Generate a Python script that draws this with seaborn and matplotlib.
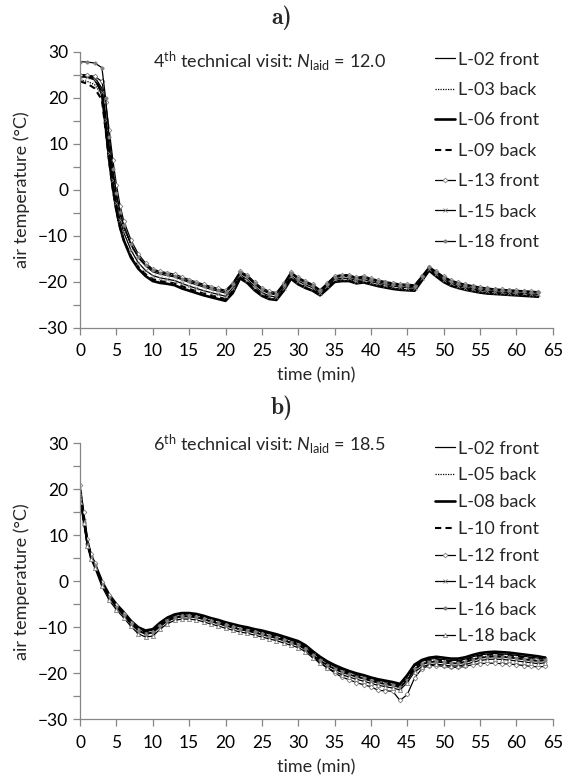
import matplotlib
matplotlib.use("Agg")
import matplotlib.pyplot as plt
from matplotlib.ticker import MultipleLocator
import seaborn as sns

# ---- panel a: 4th technical visit ----
time_a = [0, 1, 2, 3, 3.5, 4, 4.5, 5, 5.5, 6] + list(range(7, 64))

a_l02_front = [25.0, 24.9, 24.5, 22.0,
               16.5, 9.5, 3.5, -1.5, -5.3, -8.0,
               -12.0, -14.8, -16.6, -17.9, -18.4, -18.7, -19.0, -19.6, -20.2, -20.7, -21.2, -21.7, -22.1, -22.5,
               -20.8, -18.2, -19.1, -20.6, -21.9, -22.6, -22.9, -20.9, -18.3, -19.5, -20.3, -21.0, -22.2,
               -20.7, -19.2, -18.9, -18.9, -19.5, -19.2, -19.7, -20.1, -20.4, -20.7, -20.9, -21.0, -21.1,
               -19.2, -17.0, -18.2, -19.3, -20.1, -20.6, -21.0, -21.3, -21.6, -21.8, -21.9, -22.0, -22.1, -22.2, -22.3, -22.4, -22.5]
a_l03_back = [23.8, 23.5, 22.8, 20.5,
              15.0, 8.5, 2.8, -2.0, -5.6, -8.3,
              -12.2, -14.6, -16.3, -17.5, -18.0, -18.3, -18.6, -19.2, -19.8, -20.3, -20.8, -21.3, -21.7, -22.1,
              -20.5, -17.9, -18.8, -20.3, -21.6, -22.3, -22.6, -20.6, -18.1, -19.3, -20.1, -20.8, -22.0,
              -20.5, -19.0, -18.7, -18.7, -19.3, -19.0, -19.5, -19.9, -20.2, -20.5, -20.7, -20.8, -20.9,
              -19.0, -16.9, -18.0, -19.1, -19.9, -20.4, -20.8, -21.1, -21.4, -21.6, -21.8, -21.9, -22.0, -22.1, -22.2, -22.3, -22.4]
a_l06_front = [24.7, 24.6, 24.2, 21.0,
               14.0, 6.5, 0.5, -4.5, -8.2, -11.0,
               -14.8, -17.2, -18.8, -19.9, -20.3, -20.5, -20.8, -21.5, -22.0, -22.5, -23.0, -23.4, -23.8, -24.2,
               -22.5, -19.3, -20.3, -21.9, -23.1, -23.8, -24.0, -22.0, -19.4, -20.6, -21.4, -22.0, -23.0,
               -21.6, -20.1, -19.9, -19.9, -20.4, -20.2, -20.6, -21.0, -21.3, -21.6, -21.8, -21.9, -22.0,
               -19.8, -17.6, -18.9, -20.1, -20.9, -21.4, -21.8, -22.1, -22.4, -22.6, -22.7, -22.8, -22.9, -23.0, -23.1, -23.2, -23.3]
a_l09_back = [23.5, 23.0, 22.0, 19.5,
              13.0, 6.0, 0.0, -4.8, -8.3, -11.0,
              -14.5, -16.8, -18.4, -19.5, -19.9, -20.1, -20.4, -21.0, -21.6, -22.1, -22.6, -23.0, -23.4, -23.8,
              -22.0, -19.0, -20.0, -21.6, -22.8, -23.5, -23.7, -21.7, -19.2, -20.4, -21.2, -21.8, -22.8,
              -21.3, -19.9, -19.7, -19.7, -20.2, -20.0, -20.4, -20.8, -21.1, -21.4, -21.6, -21.7, -21.8,
              -19.6, -17.4, -18.7, -19.9, -20.7, -21.2, -21.6, -21.9, -22.2, -22.4, -22.5, -22.6, -22.7, -22.8, -22.9, -23.0, -23.1]
a_l13_front = [24.8, 24.8, 24.6, 23.5,
               19.0, 13.0, 6.5, 1.0, -3.5, -6.8,
               -11.0, -14.0, -16.0, -17.3, -17.8, -18.1, -18.4, -19.0, -19.6, -20.1, -20.6, -21.1, -21.5, -21.9,
               -20.3, -17.8, -18.6, -20.1, -21.4, -22.1, -22.4, -20.4, -17.9, -19.1, -19.9, -20.6, -21.8,
               -20.3, -18.8, -18.5, -18.5, -19.1, -18.8, -19.3, -19.7, -20.0, -20.3, -20.5, -20.6, -20.7,
               -18.8, -16.8, -17.8, -18.9, -19.7, -20.2, -20.6, -20.9, -21.2, -21.4, -21.6, -21.7, -21.8, -21.9, -22.0, -22.1, -22.2]
a_l15_back = [24.5, 24.4, 23.8, 21.2,
              15.2, 8.0, 2.0, -3.0, -6.6, -9.3,
              -13.2, -15.9, -17.6, -18.7, -19.2, -19.5, -19.8, -20.4, -21.0, -21.5, -22.0, -22.4, -22.8, -23.2,
              -21.4, -18.6, -19.6, -21.1, -22.4, -23.1, -23.4, -21.3, -18.8, -19.9, -20.7, -21.4, -22.5,
              -21.0, -19.5, -19.3, -19.3, -19.8, -19.6, -20.0, -20.4, -20.7, -21.0, -21.2, -21.3, -21.4,
              -19.3, -17.2, -18.4, -19.6, -20.4, -20.9, -21.3, -21.6, -21.9, -22.1, -22.2, -22.3, -22.4, -22.5, -22.6, -22.7, -22.8]
a_l18_front = [27.8, 27.7, 27.5, 26.5,
               20.0, 11.5, 4.5, -0.8, -4.8, -7.8,
               -11.8, -14.6, -16.4, -17.6, -18.1, -18.4, -18.8, -19.4, -19.9, -20.4, -20.9, -21.4, -21.8, -22.2,
               -20.6, -18.0, -18.9, -20.4, -21.7, -22.4, -22.7, -20.7, -18.1, -19.3, -20.1, -20.8, -21.9,
               -20.5, -19.0, -18.7, -18.7, -19.3, -19.0, -19.5, -19.9, -20.2, -20.5, -20.7, -20.8, -20.9,
               -18.9, -16.9, -17.9, -19.0, -19.8, -20.3, -20.7, -21.0, -21.3, -21.5, -21.7, -21.8, -21.9, -22.0, -22.1, -22.2, -22.3]

# ---- panel b: 6th technical visit ----
time_b = [0, 0.5, 1, 1.5, 2] + list(range(3, 65))

b_l02_front = [19.5, 13.8, 8.6, 5.7, 4.0,
               -0.1, -3.0, -5.1, -6.8, -8.7, -10.2, -10.9, -10.6, -9.2, -8.1,
               -7.4, -7.1, -7.1, -7.3, -7.7, -8.2, -8.6, -9.1, -9.5, -9.9, -10.2, -10.6,
               -11.0, -11.4, -11.8, -12.3, -12.8, -13.3, -14.2, -15.5, -16.7, -17.7, -18.5, -19.2,
               -19.7, -20.2, -20.6, -21.1, -21.5, -21.8, -22.1, -22.5, -20.6, -18.4, -17.4, -16.9,
               -16.8, -17.0, -17.2, -17.2, -16.9, -16.4, -16.0, -15.8, -15.7, -15.8, -15.9, -16.1, -16.3, -16.5, -16.7, -16.5]
b_l05_back = [18.5, 13.2, 8.2, 5.3, 3.6,
              -0.5, -3.4, -5.5, -7.2, -9.1, -10.6, -11.3, -11.0, -9.6, -8.5,
              -7.8, -7.5, -7.5, -7.7, -8.1, -8.6, -9.0, -9.5, -9.9, -10.3, -10.6, -11.0,
              -11.4, -11.8, -12.2, -12.7, -13.2, -13.7, -14.6, -15.9, -17.1, -18.1, -18.9, -19.6,
              -20.1, -20.6, -21.0, -21.5, -21.9, -22.2, -22.5, -22.9, -21.3, -19.0, -17.9, -17.4,
              -17.3, -17.5, -17.7, -17.7, -17.4, -16.9, -16.5, -16.3, -16.2, -16.3, -16.4, -16.6, -16.8, -17.0, -17.2, -17.0]
b_l08_back = [19.8, 14.0, 8.6, 5.6, 3.9,
              0.0, -2.9, -5.0, -6.7, -8.6, -10.0, -10.7, -10.4, -9.0, -7.9,
              -7.2, -6.9, -6.9, -7.1, -7.5, -8.0, -8.4, -8.9, -9.3, -9.7, -10.0, -10.4,
              -10.7, -11.1, -11.5, -12.0, -12.5, -13.0, -13.9, -15.2, -16.4, -17.4, -18.2, -18.9,
              -19.5, -20.0, -20.4, -20.9, -21.3, -21.6, -21.9, -22.3, -20.4, -18.1, -17.1, -16.6,
              -16.4, -16.6, -16.8, -16.8, -16.5, -16.0, -15.6, -15.4, -15.3, -15.4, -15.5, -15.7, -15.9, -16.1, -16.3, -16.6]
b_l10_front = [19.0, 13.6, 8.4, 5.5, 3.8,
               -0.3, -3.2, -5.3, -7.0, -8.9, -10.4, -11.1, -10.8, -9.4, -8.3,
               -7.6, -7.3, -7.3, -7.5, -7.9, -8.4, -8.8, -9.3, -9.7, -10.1, -10.4, -10.8,
               -11.2, -11.6, -12.0, -12.5, -13.0, -13.5, -14.4, -15.7, -16.9, -17.9, -18.7, -19.4,
               -19.9, -20.4, -20.8, -21.3, -21.7, -22.0, -22.3, -22.7, -21.0, -18.7, -17.6, -17.1,
               -17.0, -17.2, -17.4, -17.4, -17.1, -16.6, -16.2, -16.0, -15.9, -16.0, -16.1, -16.3, -16.5, -16.7, -16.9, -16.7]
b_l12_front = [20.9, 15.0, 9.3, 6.0, 3.9,
               -0.2, -3.0, -5.2, -7.0, -9.0, -10.6, -11.4, -11.1, -9.7, -8.6,
               -7.9, -7.6, -7.6, -7.8, -8.2, -8.7, -9.1, -9.6, -10.0, -10.4, -10.7, -11.1,
               -11.5, -11.9, -12.3, -12.8, -13.3, -13.8, -14.8, -16.3, -17.6, -18.8, -19.9, -20.8,
               -21.4, -22.0, -22.5, -22.9, -23.7, -23.8, -23.9, -25.9, -24.6, -21.0, -19.0, -18.3,
               -18.3, -18.5, -18.7, -18.7, -18.5, -18.1, -17.9, -17.8, -17.8, -17.9, -18.0, -18.1, -18.3, -18.5, -18.6, -18.5]
b_l14_back = [18.8, 13.2, 8.0, 5.1, 3.4,
              -0.7, -3.6, -5.7, -7.4, -9.3, -10.8, -11.5, -11.2, -9.8, -8.7,
              -8.0, -7.7, -7.7, -7.9, -8.3, -8.8, -9.2, -9.7, -10.1, -10.5, -10.8, -11.2,
              -11.6, -12.0, -12.4, -12.9, -13.4, -13.9, -14.8, -16.1, -17.3, -18.3, -19.1, -19.8,
              -20.3, -20.8, -21.2, -21.7, -22.1, -22.4, -22.7, -23.1, -21.5, -19.2, -18.1, -17.6,
              -17.5, -17.7, -17.9, -17.9, -17.6, -17.1, -16.7, -16.5, -16.4, -16.5, -16.6, -16.8, -17.0, -17.2, -17.4, -17.2]
b_l16_back = [17.8, 12.9, 8.1, 5.2, 3.5,
              -0.6, -3.5, -5.6, -7.3, -9.2, -10.7, -11.4, -11.1, -9.7, -8.6,
              -7.9, -7.6, -7.6, -7.8, -8.2, -8.7, -9.1, -9.6, -10.0, -10.4, -10.7, -11.1,
              -11.5, -11.9, -12.3, -12.8, -13.3, -13.8, -14.7, -16.0, -17.2, -18.2, -19.0, -19.7,
              -20.2, -20.7, -21.1, -21.6, -22.0, -22.3, -22.6, -23.0, -21.4, -19.1, -18.0, -17.5,
              -17.4, -17.6, -17.8, -17.8, -17.5, -17.0, -16.6, -16.4, -16.3, -16.4, -16.5, -16.7, -16.9, -17.1, -17.3, -17.1]
b_l18_back = [17.3, 12.6, 7.6, 4.8, 3.0,
              -1.1, -4.1, -6.2, -7.9, -9.8, -11.4, -12.1, -11.9, -10.4, -9.2,
              -8.5, -8.2, -8.2, -8.4, -8.8, -9.3, -9.7, -10.2, -10.6, -11.0, -11.3, -11.7,
              -12.1, -12.5, -12.9, -13.4, -13.9, -14.4, -15.3, -16.6, -17.8, -18.8, -19.6, -20.3,
              -20.8, -21.3, -21.7, -22.2, -22.6, -22.9, -23.2, -23.6, -22.0, -19.7, -18.6, -18.1,
              -18.0, -18.2, -18.4, -18.4, -18.1, -17.6, -17.2, -17.0, -16.9, -17.0, -17.1, -17.3, -17.5, -17.7, -17.9, -17.7]

# line looks, Excel-like
GRAY = "#7f7f7f"
thin = dict(lw=0.9, ls="-")
dotted = dict(lw=0.9, ls=(0, (1, 1)))
thick = dict(lw=1.9, ls="-")
dashed = dict(lw=1.5, ls=(0, (3, 2)))
diamond = dict(lw=0.9, ls="-", marker="D", ms=2.4, mfc="white", mec=GRAY, mew=0.6)
cross = dict(lw=0.9, ls="-", marker="x", ms=3.0, mec=GRAY, mew=0.6)
circle = dict(lw=0.9, ls="-", marker="o", ms=2.4, mfc=GRAY, mec=GRAY, mew=0.4)
triangle = dict(lw=0.9, ls="-", marker="^", ms=3.0, mfc="white", mec=GRAY, mew=0.6)

panel_a = [("L-02 front", a_l02_front, thin),
           ("L-03 back", a_l03_back, dotted),
           ("L-06 front", a_l06_front, thick),
           ("L-09 back", a_l09_back, dashed),
           ("L-13 front", a_l13_front, diamond),
           ("L-15 back", a_l15_back, cross),
           ("L-18 front", a_l18_front, circle)]
panel_b = [("L-02 front", b_l02_front, thin),
           ("L-05 back", b_l05_back, dotted),
           ("L-08 back", b_l08_back, thick),
           ("L-10 front", b_l10_front, dashed),
           ("L-12 front", b_l12_front, diamond),
           ("L-14 back", b_l14_back, cross),
           ("L-16 back", b_l16_back, circle),
           ("L-18 back", b_l18_back, triangle)]

sns.set_style("ticks")
plt.rcParams["font.family"] = ["Lato", "DejaVu Sans"]
plt.rcParams["mathtext.fontset"] = "custom"
plt.rcParams["mathtext.rm"] = "Lato"
plt.rcParams["mathtext.it"] = "Lato:italic"

fig = plt.figure(figsize=(5.64, 7.78), dpi=100)
ax_a = fig.add_axes([0.142, 0.579, 0.838, 0.3548])
ax_b = fig.add_axes([0.142, 0.0754, 0.838, 0.3548])


def draw_panel(ax, time, series, note, leg_top, spacing):
    for label, vals, style in series:
        sns.lineplot(x=time, y=vals, ax=ax, color="black", label=label, **style)
    ax.set_xlim(0, 65)
    ax.set_ylim(-30, 30)
    ax.xaxis.set_major_locator(MultipleLocator(5))
    ax.yaxis.set_major_locator(MultipleLocator(10))
    ax.yaxis.set_minor_locator(MultipleLocator(5))
    ax.tick_params(axis="both", which="both", direction="out", length=5,
                   width=0.9, color="#868686", labelsize=12.5, labelcolor="black")
    ax.tick_params(axis="x", pad=6)
    sns.despine(ax=ax)
    for s in ["left", "bottom"]:
        ax.spines[s].set_color("#868686")
        ax.spines[s].set_linewidth(0.9)
    ax.set_xlabel("time (min)", fontsize=13, labelpad=6)
    ax.set_ylabel("air temperature (°C)", fontsize=13, labelpad=6)
    ax.text(10, note[1], note[0], fontsize=13, ha="left", va="center")
    ax.legend(loc="upper left", bbox_to_anchor=(0.751, leg_top), frameon=False,
              fontsize=13, handlelength=1.1, handletextpad=0.15, borderpad=0,
              borderaxespad=0, labelspacing=spacing, numpoints=1)


draw_panel(ax_a, time_a, panel_a,
           (r"4$^{\mathrm{th}}$ technical visit: $N_{\mathrm{laid}}$ = 12.0", 28.0), 1.0, 0.8)
draw_panel(ax_b, time_b, panel_b,
           (r"6$^{\mathrm{th}}$ technical visit: $N_{\mathrm{laid}}$ = 18.5", 29.8), 1.01, 0.6)

fig.text(0.5, 0.977, "a)", family=["cmb10", "DejaVu Serif"], fontsize=17,
         fontweight="bold", ha="center", va="center")
fig.text(0.5, 0.476, "b)", family=["cmb10", "DejaVu Serif"], fontsize=17,
         fontweight="bold", ha="center", va="center")

fig.savefig("out.png", dpi=100)
